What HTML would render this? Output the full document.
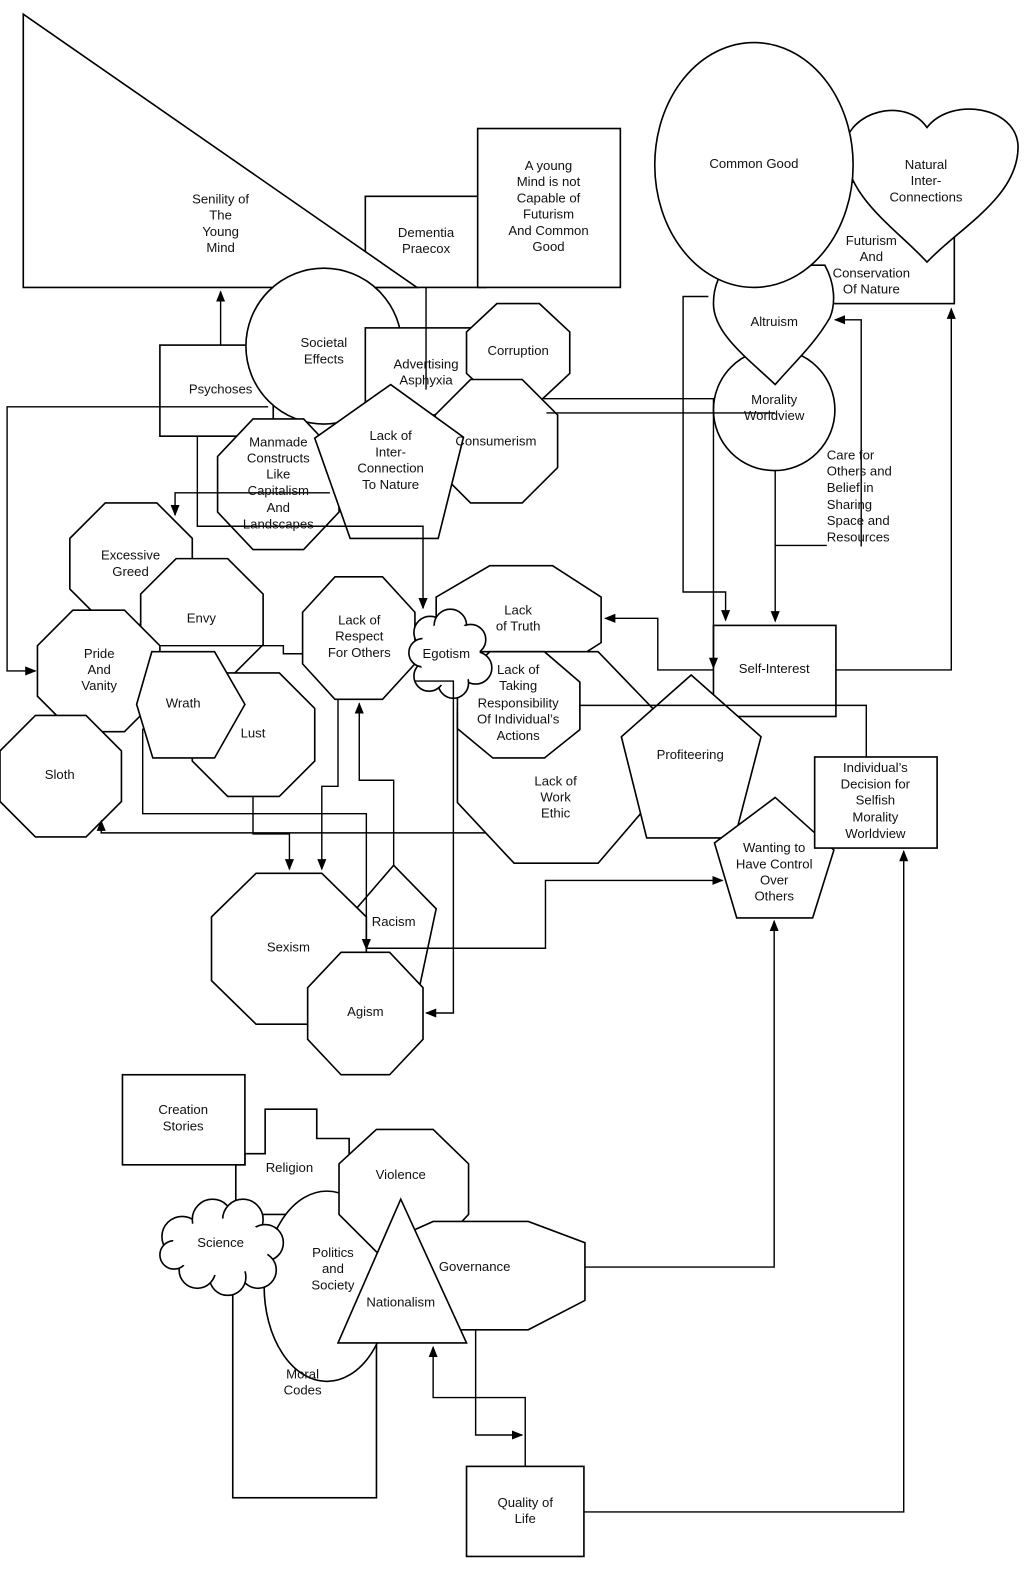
<!DOCTYPE html>
<html><head><meta charset="utf-8"><style>
body{margin:0;background:#fff}
svg{display:block}
text{font-family:"Liberation Sans",Arial,sans-serif;font-size:13px;fill:#111;text-anchor:middle}
.s{fill:#fff;stroke:#000;stroke-width:1.6}
.l{fill:none;stroke:#000;stroke-width:1.4}
</style></head><body>
<svg width="1024" height="1588" viewBox="0 0 1024 1588" xmlns="http://www.w3.org/2000/svg">
<defs><marker id="a" viewBox="0 0 10 10" refX="9" refY="5" markerWidth="8" markerHeight="8" orient="auto"><path d="M0,1 L10,5 L0,9 z" fill="#000"/></marker></defs>
<g transform="scale(1.012)">
<!-- top-left cluster -->
<rect class="s" x="361" y="194" width="119" height="90"/>
<polygon class="s" points="23,14 23,284 412,284"/>
<rect class="s" x="472" y="127" width="141" height="157"/>
<rect class="s" x="158" y="341" width="112" height="90"/>
<circle class="s" cx="320" cy="342" r="77"/>
<rect class="s" x="361" y="324" width="109" height="86"/>
<polygon class="s" points="491,300 533,300 563,328 563,369 533,397 491,397 461,369 461,328"/>
<polygon class="s" points="465,375 516,375 551,410 551,462 516,497 465,497 430,462 430,410"/>
<polygon class="s" points="250,414 300,414 335,451 335,506 300,543 250,543 215,506 215,451"/>
<polygon class="s" points="386,380 458,432 433,532 346,532 311,433"/>

<!-- sins -->
<polygon class="s" points="104,497 155,497 190,532 190,582 155,617 104,617 69,582 69,532"/>
<polygon class="s" points="174,552 225,552 260,587 260,637 225,672 174,672 139,637 139,587"/>
<polygon class="s" points="72,603 123,603 158,638 158,688 123,723 72,723 37,688 37,638"/>
<polygon class="s" points="225,665 276,665 311,700 311,752 276,787 225,787 190,752 190,700"/>
<polygon class="s" points="150,644 212,644 242,696 212,749 151,749 135,696"/>
<polygon class="s" points="35,707 85,707 120,742 120,792 85,827 35,827 0,792 0,742"/>

<!-- middle -->
<polygon class="s" points="538,644 591,644 645,700 645,790 591,853 508,853 452,793 452,700"/>
<polygon class="s" points="431,590 484,559 546,559 594,590 594,635 580,644 431,644"/>
<polygon class="s" points="484,644 538,644 573,674 573,721 538,749 487,749 452,720 452,674"/>
<polygon class="s" points="331,570 378,570 410,605 410,656 378,691 331,691 299,656 299,605"/>
<g class="s">
<circle cx="425" cy="625" r="16"/><circle cx="445" cy="618" r="16"/><circle cx="465" cy="632" r="15"/>
<circle cx="470" cy="660" r="16"/><circle cx="448" cy="675" r="15"/><circle cx="424" cy="668" r="15"/><circle cx="418" cy="645" r="14"/>
</g>
<ellipse cx="444" cy="646" rx="30" ry="32" fill="#fff"/>

<rect class="s" x="705" y="618" width="121" height="90"/>
<polygon class="s" points="683,667 752,728 726,828 639,828 614,728"/>
<polygon class="s" points="766,788 824,840 803,907 728,907 706,833"/>
<rect class="s" x="805" y="748" width="121" height="90"/>

<polygon class="s" points="389,855 431,898 415,973 362,973 352,898"/>
<polygon class="s" points="253,863 318,863 362,906 362,969 318,1012 253,1012 209,969 209,906"/>
<polygon class="s" points="337,941 385,941 418,976 418,1027 385,1062 337,1062 304,1027 304,976"/>

<!-- top right -->
<rect class="s" x="780" y="180" width="163" height="120"/>
<path class="s" d="M916,259 C885,225 835,195 835,145 C838,110 895,95 916,126 C940,95 1005,105 1006,145 C1006,195 948,225 916,259 Z"/>
<circle class="s" cx="765" cy="405" r="60"/>
<path class="s" d="M766,380 C740,355 705,330 705,300 C705,282 712,268 720,262 L815,262 C825,280 826,300 820,314 C805,340 785,358 766,380 Z"/>
<ellipse class="s" cx="745" cy="163" rx="98" ry="121"/>

<!-- bottom cluster -->
<rect class="s" x="230" y="1240" width="142" height="240"/>
<path class="s" d="M233,1151 L242,1151 L242,1140 L262,1140 L262,1096 L313,1096 L313,1125 L345,1125 L345,1200 L233,1200 Z"/>
<rect class="s" x="121" y="1062" width="121" height="89"/>
<ellipse class="s" cx="323" cy="1271" rx="62" ry="94"/>
<g class="s">
<circle cx="180" cy="1222" r="20"/><circle cx="210" cy="1205" r="20"/><circle cx="240" cy="1205" r="20"/>
<circle cx="262" cy="1228" r="18"/><circle cx="255" cy="1255" r="18"/><circle cx="225" cy="1262" r="18"/>
<circle cx="195" cy="1255" r="18"/><circle cx="172" cy="1240" r="14"/>
</g>
<ellipse cx="218" cy="1232" rx="48" ry="28" fill="#fff"/>
<polygon class="s" points="372,1116 428,1116 463,1150 463,1200 428,1237 372,1237 335,1200 335,1150"/>
<polygon class="s" points="410,1215 428,1207 522,1207 578,1228 578,1285 522,1314 428,1314"/>
<polygon class="s" points="396,1185 334,1327 461,1327"/>
<rect class="s" x="461" y="1449" width="116" height="89"/>

<!-- connectors -->
<g class="l">
<path d="M218,341 L218,288" marker-end="url(#a)"/>
<path d="M421,284 L421,385"/>
<path d="M265,402 L7,402 L7,663 L35,663" marker-end="url(#a)"/>
<path d="M195,431 L195,520 L418,520 L418,601" marker-end="url(#a)"/>
<path d="M326,487 L173,487 L173,509" marker-end="url(#a)"/>
<path d="M158,638 L280,638 L280,646 L299,646"/>
<path d="M700,293 L675,293 L675,585 L717,585 L717,613" marker-end="url(#a)"/>
<path d="M537,394 L705,394 L705,660" marker-end="url(#a)"/>
<path d="M540,408 L766,408"/>
<path d="M766,465 L766,614" marker-end="url(#a)"/>
<path d="M766,539 L817,539"/>
<path d="M851,540 L851,316 L825,316" marker-end="url(#a)"/>
<path d="M826,662 L940,662 L940,305" marker-end="url(#a)"/>
<path d="M705,662 L650,662 L650,611 L598,611" marker-end="url(#a)"/>
<path d="M573,697 L856,697 L856,748"/>
<path d="M577,1494 L893,1494 L893,841" marker-end="url(#a)"/>
<path d="M578,1252 L765,1252 L765,910" marker-end="url(#a)"/>
<path d="M362,937 L539,937 L539,870 L714,870" marker-end="url(#a)"/>
<path d="M250,787 L250,824 L286,824 L286,859" marker-end="url(#a)"/>
<path d="M334,691 L334,777 L318,777 L318,859" marker-end="url(#a)"/>
<path d="M389,855 L389,771 L355,771 L355,695" marker-end="url(#a)"/>
<path d="M141,720 L141,804 L362,804 L362,938" marker-end="url(#a)"/>
<path d="M480,823 L100,823 L100,811" marker-end="url(#a)"/>
<path d="M410,673 L448,673 L448,1001 L421,1001" marker-end="url(#a)"/>
<path d="M519,1449 L519,1381 L428,1381 L428,1331" marker-end="url(#a)"/>
<path d="M470,1314 L470,1418 L516,1418" marker-end="url(#a)"/>
</g>

<!-- labels -->
<text x="218" y="201">Senility of</text><text x="218" y="217">The</text><text x="218" y="233">Young</text><text x="218" y="249">Mind</text>
<text x="421" y="234">Dementia</text><text x="421" y="250">Praecox</text>
<text x="542" y="168">A young</text><text x="542" y="184">Mind is not</text><text x="542" y="200">Capable of</text><text x="542" y="216">Futurism</text><text x="542" y="232">And Common</text><text x="542" y="248">Good</text>
<text x="218" y="389">Psychoses</text>
<text x="320" y="343">Societal</text><text x="320" y="359">Effects</text>
<text x="421" y="364">Advertising</text><text x="421" y="380">Asphyxia</text>
<text x="512" y="351">Corruption</text>
<text x="490" y="440">Consumerism</text>
<text x="386" y="435">Lack of</text><text x="386" y="451">Inter-</text><text x="386" y="467">Connection</text><text x="386" y="483">To Nature</text>
<text x="275" y="441">Manmade</text><text x="275" y="457">Constructs</text><text x="275" y="473">Like</text><text x="275" y="489">Capitalism</text><text x="275" y="506">And</text><text x="275" y="522">Landscapes</text>
<text x="129" y="553">Excessive</text><text x="129" y="569">Greed</text>
<text x="199" y="615">Envy</text>
<text x="98" y="650">Pride</text><text x="98" y="666">And</text><text x="98" y="682">Vanity</text>
<text x="181" y="699">Wrath</text>
<text x="250" y="729">Lust</text>
<text x="59" y="770">Sloth</text>
<text x="355" y="617">Lack of</text><text x="355" y="633">Respect</text><text x="355" y="649">For Others</text>
<text x="441" y="650">Egotism</text>
<text x="512" y="607">Lack</text><text x="512" y="623">of Truth</text>
<text x="512" y="666">Lack of</text><text x="512" y="682">Taking</text><text x="512" y="699">Responsibility</text><text x="512" y="715">Of Individual’s</text><text x="512" y="731">Actions</text>
<text x="549" y="776">Lack of</text><text x="549" y="792">Work</text><text x="549" y="808">Ethic</text>
<text x="682" y="750">Profiteering</text>
<text x="765" y="665">Self-Interest</text>
<text x="865" y="763">Individual’s</text><text x="865" y="779">Decision for</text><text x="865" y="795">Selfish</text><text x="865" y="812">Morality</text><text x="865" y="828">Worldview</text>
<text x="765" y="842">Wanting to</text><text x="765" y="858">Have Control</text><text x="765" y="874">Over</text><text x="765" y="890">Others</text>
<text x="389" y="915">Racism</text>
<text x="285" y="940">Sexism</text>
<text x="361" y="1004">Agism</text>
<text x="745" y="166">Common Good</text>
<text x="915" y="167">Natural</text><text x="915" y="183">Inter-</text><text x="915" y="199">Connections</text>
<text x="861" y="242">Futurism</text><text x="861" y="258">And</text><text x="861" y="274">Conservation</text><text x="861" y="290">Of Nature</text>
<text x="765" y="322">Altruism</text>
<text x="765" y="399">Morality</text><text x="765" y="415">Worldview</text>
<text x="817" y="454" text-anchor="start" style="text-anchor:start">Care for</text><text x="817" y="470" style="text-anchor:start">Others and</text><text x="817" y="486" style="text-anchor:start">Belief in</text><text x="817" y="503" style="text-anchor:start">Sharing</text><text x="817" y="519" style="text-anchor:start">Space and</text><text x="817" y="535" style="text-anchor:start">Resources</text>
<text x="181" y="1101">Creation</text><text x="181" y="1117">Stories</text>
<text x="286" y="1158">Religion</text>
<text x="396" y="1165">Violence</text>
<text x="218" y="1232">Science</text>
<text x="329" y="1242">Politics</text><text x="329" y="1258">and</text><text x="329" y="1274">Society</text>
<text x="469" y="1256">Governance</text>
<text x="396" y="1291">Nationalism</text>
<text x="299" y="1362">Moral</text><text x="299" y="1378">Codes</text>
<text x="519" y="1489">Quality of</text><text x="519" y="1505">Life</text>
</g>
</svg>
</body></html>
